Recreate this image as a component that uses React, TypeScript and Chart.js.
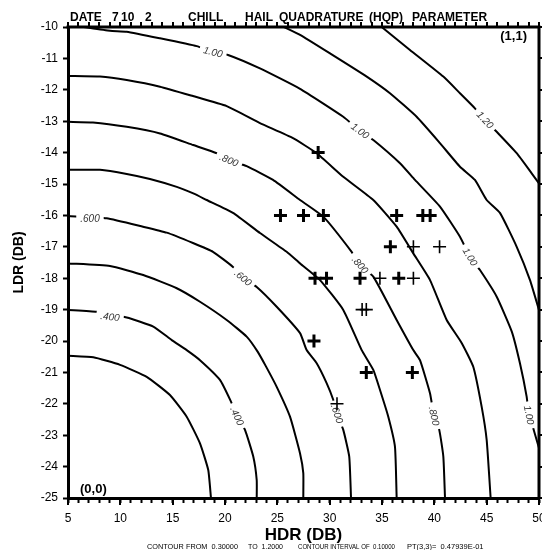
import React, { useEffect, useRef } from 'react';
import { Chart, registerables } from 'chart.js';

Chart.register(...registerables);

// ---------- axes ----------
const xMin = 5;
const xMax = 50;
const yMin = -25;
const yMax = -10;
const xTickValues = [5, 10, 15, 20, 25, 30, 35, 40, 45, 50];
const xTickLabels = ['5', '10', '15', '20', '25', '30', '35', '40', '45', '50'];
const yTickValues = [-10, -11, -12, -13, -14, -15, -16, -17, -18, -19, -20, -21, -22, -23, -24, -25];
const yTickLabels = ['-10', '-11', '-12', '-13', '-14', '-15', '-16', '-17', '-18', '-19', '-20', '-21', '-22', '-23', '-24', '-25'];

// ---------- contour lines (HDR, LDR) ----------
const level030 = [[5, -20.47], [7.42, -20.52], [9.97, -20.76], [12.52, -21.14], [14.74, -21.72], [16.34, -22.41], [17.61, -23.26], [18.4, -24.11], [18.66, -25]];
const level040 = [[5, -19.01], [7.74, -19.07], [10.61, -19.25], [13.15, -19.54], [14.91, -19.97], [16.34, -20.29], [17.61, -20.61], [19.52, -21.24], [20.57, -21.93], [21.15, -22.39], [21.91, -22.83], [22.7, -23.68], [23.03, -24.43], [23.03, -25]];
const level050 = [[5, -17.53], [9.01, -17.61], [12.19, -17.9], [15.39, -18.32], [17.61, -18.75], [20.16, -19.33], [22.07, -19.86], [23.1, -20.33], [23.9, -20.8], [24.94, -21.46], [26.21, -22.41], [27.17, -23.58], [27.48, -24.21], [27.48, -25]];
const level060 = [[5, -16.02], [8.7, -16.09], [12.17, -16.36], [14.43, -16.55], [16.94, -16.88], [18.85, -17.16], [20.76, -17.64], [21.72, -17.99], [23.03, -18.28], [24.94, -18.91], [27.17, -19.75], [27.8, -20.29], [28.76, -20.71], [29.72, -21.35], [30.35, -21.88], [30.7, -22.32], [31.3, -22.83], [31.87, -23.68], [32.04, -25]];
const level070 = [[5, -14.55], [8.06, -14.55], [10.61, -14.68], [12.83, -14.84], [15.39, -15.09], [16.97, -15.3], [18.25, -15.51], [20.76, -15.92], [23.34, -16.56], [25.89, -17.16], [27.17, -17.53], [29.08, -18.06], [31.3, -19.01], [33.06, -20.29], [34.17, -20.92], [34.81, -21.56], [35.6, -22.41], [36.24, -23.37], [36.4, -25]];
const level080 = [[5, -13.02], [7.39, -13.04], [10.61, -13.18], [13.79, -13.39], [16.97, -13.76], [19.21, -14.02], [20.38, -14.24], [22.07, -14.43], [24.59, -14.87], [27.17, -15.51], [29.39, -16.04], [32.1, -17.16], [32.9, -17.58], [34.17, -17.95], [36.4, -19.33], [37.99, -20.29], [38.63, -20.61], [39.59, -21.67], [39.97, -22.39], [40.47, -22.83], [40.86, -23.68], [41.02, -25]];
const level090 = [[5, -11.56], [8.06, -11.58], [10.61, -11.69], [13.79, -11.9], [16.94, -12.2], [20.16, -12.52], [23.34, -13.06], [26.5, -13.54], [28.76, -14.02], [31.3, -14.77], [34.17, -15.51], [36.4, -16.36], [37.99, -17.21], [39.59, -18.06], [41.18, -19.33], [42.61, -20.06], [43.72, -20.82], [44.52, -22.09], [45.0, -23.15], [45.38, -25]];
const level100 = [[6.5, -10], [9.01, -10.12], [10.61, -10.15], [13.79, -10.36], [17.3, -10.61], [18.85, -10.8], [20.29, -10.89], [23.34, -11.32], [27.17, -11.97], [31.3, -12.86], [32.9, -13.31], [34.17, -13.6], [36.72, -14.34], [38.15, -14.87], [40.54, -15.72], [42.45, -16.68], [43.41, -17.32], [44.36, -17.74], [45.96, -18.59], [47.4, -19.7], [48.18, -20.71], [48.82, -21.77], [49.04, -22.36], [49.45, -22.78], [50, -23.41]];
const level110 = [[25.64, -10], [27.17, -10.25], [30.03, -10.84], [33.54, -11.58], [35.76, -12.11], [38.31, -12.86], [40.54, -13.7], [42.45, -14.45], [43.88, -14.87], [45.0, -15.51], [46.27, -15.92], [47.87, -17.0], [49.14, -18.06], [50, -19.01]];
const level120 = [[34.97, -10], [37.67, -10.73], [40.86, -11.58], [42.45, -12.11], [43.88, -12.59], [44.84, -12.96], [46.11, -13.39], [47.87, -14.02], [49.3, -14.66], [50, -14.98]];

const contourLines = [level030, level040, level050, level060, level070, level080, level090, level100, level110, level120];

// ---------- contour labels ----------
const labelTexts = ['1.00', '1.00', '1.00', '1.00', '1.20', '.800', '.800', '.800', '.600', '.600', '.600', '.400', '.400'];
const labelX = [18.85, 32.9, 43.41, 49.04, 44.84, 20.38, 32.9, 39.97, 7.1, 21.72, 30.7, 9.01, 21.15];
const labelY = [-10.8, -13.31, -17.32, -22.36, -12.96, -14.24, -17.58, -22.39, -16.12, -17.99, -22.32, -19.23, -22.39];
const labelAngle = [14, 37, 59, 78, 47, 22, 49, 78, 0, 40, 72, 6, 65];

// ---------- observations (crosses) ----------
const boldX = [28.9, 25.3, 27.5, 29.4, 36.4, 38.9, 39.6, 35.8, 28.6, 29.7, 32.9, 36.6, 28.5, 33.5, 37.9];
const boldY = [-14, -16, -16, -16, -16, -16, -16, -17, -18, -18, -18, -18, -20, -21, -21];
const thinX = [38.0, 40.5, 34.8, 38.0, 30.7, 33.1, 33.5];
const thinY = [-17, -17, -18, -18, -22, -19, -19];

// ---------- texts ----------
const titleWords = ['DATE', '7', '10', '2', 'CHILL', 'HAIL', 'QUADRATURE', '(HQP)', 'PARAMETER'];
const titleOffsets = [2, 44, 53, 77, 120, 177, 211, 301, 344];
const footerParts = ['CONTOUR FROM  0.30000', 'TO  1.2000', 'CONTOUR INTERVAL OF  0.10000', 'PT(3,3)=  0.47939E-01'];
const footerOffsets = [79, 180, 230, 339];
const footerWidths = [91, 35, 97, 99];

const FONT = 'Liberation Sans, Arial, sans-serif';
const CROSS_DATASETS = 2;

const textPlugin = {
  id: 'hqpText',
  afterDatasetDraw(chart: any, args: any) {
    if (args.index !== CROSS_DATASETS) return;
    const ctx = chart.ctx;
    const xs = chart.scales.x;
    const ys = chart.scales.y;
    ctx.save();
    ctx.font = `italic 10px ${FONT}`;
    ctx.textAlign = 'center';
    ctx.textBaseline = 'middle';
    for (let i = 0; i < labelTexts.length; i++) {
      const px = xs.getPixelForValue(labelX[i]);
      const py = ys.getPixelForValue(labelY[i]);
      const w = ctx.measureText(labelTexts[i]).width;
      ctx.save();
      ctx.translate(px, py);
      ctx.rotate((labelAngle[i] * Math.PI) / 180);
      ctx.fillStyle = '#ffffff';
      ctx.fillRect(-w / 2 - 4, -6, w + 8, 12);
      ctx.fillStyle = '#333333';
      ctx.fillText(labelTexts[i], 0, 0.5);
      ctx.restore();
    }
    ctx.restore();
  },
  afterDraw(chart: any) {
    const ctx = chart.ctx;
    const a = chart.chartArea;
    const xs = chart.scales.x;
    const ys = chart.scales.y;
    ctx.save();
    // frame: top and right borders with outward ticks, longer major ticks at bottom
    ctx.strokeStyle = '#000';
    ctx.lineWidth = 3;
    ctx.beginPath();
    ctx.moveTo(a.left - 1.5, a.top);
    ctx.lineTo(a.right, a.top);
    ctx.moveTo(a.right, a.top - 1.5);
    ctx.lineTo(a.right, a.bottom + 1.5);
    ctx.stroke();
    ctx.lineWidth = 2;
    ctx.beginPath();
    for (let v = xMin; v <= xMax; v++) {
      const px = Math.round(xs.getPixelForValue(v));
      ctx.moveTo(px, a.top);
      ctx.lineTo(px, a.top - 5);
      if (xTickValues.indexOf(v) >= 0) {
        ctx.moveTo(px, a.bottom);
        ctx.lineTo(px, a.bottom + 7);
      }
    }
    for (let v = yMin; v <= yMax; v++) {
      const py = Math.round(ys.getPixelForValue(v));
      ctx.moveTo(a.right, py);
      ctx.lineTo(a.right + 6, py);
    }
    ctx.stroke();

    ctx.fillStyle = '#000';
    ctx.textBaseline = 'alphabetic';
    // title
    ctx.font = `bold 12px ${FONT}`;
    ctx.textAlign = 'left';
    for (let i = 0; i < titleWords.length; i++) {
      ctx.fillText(titleWords[i], a.left + titleOffsets[i], a.top - 6);
    }
    // corner marks
    ctx.font = `bold 13px ${FONT}`;
    ctx.textAlign = 'right';
    ctx.fillText('(1,1)', a.right - 12, a.top + 13);
    ctx.textAlign = 'left';
    ctx.fillText('(0,0)', a.left + 12, a.bottom - 5);
    // x title
    ctx.font = `bold 17px ${FONT}`;
    ctx.textAlign = 'center';
    ctx.fillText('HDR (DB)', (a.left + a.right) / 2, a.bottom + 42);
    // y title
    ctx.save();
    ctx.translate(19, (a.top + a.bottom) / 2);
    ctx.rotate(-Math.PI / 2);
    ctx.font = `bold 14px ${FONT}`;
    ctx.textAlign = 'center';
    ctx.textBaseline = 'middle';
    ctx.fillText('LDR (DB)', 0, 0);
    ctx.restore();
    // footer
    ctx.font = `7.5px ${FONT}`;
    ctx.textAlign = 'left';
    for (let i = 0; i < footerParts.length; i++) {
      ctx.fillText(footerParts[i], a.left + footerOffsets[i], a.bottom + 51, footerWidths[i]);
    }
    ctx.restore();
  },
};

export default function App() {
  const ref = useRef<HTMLCanvasElement>(null);

  useEffect(() => {
    const canvas = ref.current;
    if (!canvas) return;

    const crossSets = [
      {
        label: 'obs bold',
        data: boldX.map((x, i) => ({ x, y: boldY[i] })),
        showLine: false,
        pointStyle: 'cross',
        pointRadius: 6.5,
        pointBorderWidth: 3,
        pointBorderColor: '#000',
        pointBackgroundColor: '#000',
      },
      {
        label: 'obs thin',
        data: thinX.map((x, i) => ({ x, y: thinY[i] })),
        showLine: false,
        pointStyle: 'cross',
        pointRadius: 6.5,
        pointBorderWidth: 1.6,
        pointBorderColor: '#000',
        pointBackgroundColor: '#000',
      },
    ];
    const contourSets = contourLines.map((line, i) => ({
      label: `level ${i}`,
      data: line.map(([x, y]) => ({ x, y })),
      showLine: true,
      borderColor: '#000',
      borderWidth: 2,
      pointRadius: 0,
      tension: 0.15,
      fill: false,
    }));

    const tickFont = { family: FONT, size: 12 };
    const chart = new Chart(canvas, {
      type: 'scatter',
      data: { datasets: [...crossSets, ...contourSets] as any },
      options: {
        animation: false,
        responsive: false,
        devicePixelRatio: 1,
        events: [],
        layout: { autoPadding: false, padding: { left: 0, top: 27, right: 3, bottom: 0 } },
        plugins: { legend: { display: false }, tooltip: { enabled: false }, title: { display: false } },
        scales: {
          x: {
            type: 'linear',
            position: 'bottom',
            min: xMin,
            max: xMax,
            ticks: {
              stepSize: 1,
              autoSkip: false,
              maxRotation: 0,
              minRotation: 0,
              padding: 8,
              color: '#000',
              font: tickFont,
              callback: (v: any) => {
                const k = xTickValues.indexOf(Number(v));
                return k >= 0 ? xTickLabels[k] : '';
              },
            },
            grid: { display: true, drawOnChartArea: false, drawTicks: true, tickLength: 5, tickWidth: 2, tickColor: '#000' },
            border: { display: true, color: '#000', width: 3 },
            afterFit: (s: any) => {
              s.height = 52;
              s.paddingLeft = 0;
              s.paddingRight = 0;
            },
          },
          y: {
            type: 'linear',
            position: 'left',
            min: yMin,
            max: yMax,
            ticks: {
              stepSize: 1,
              autoSkip: false,
              padding: 5,
              color: '#000',
              font: tickFont,
              callback: (v: any) => {
                const k = yTickValues.indexOf(Number(v));
                return k >= 0 ? yTickLabels[k] : '';
              },
            },
            grid: { display: true, drawOnChartArea: false, drawTicks: true, tickLength: 5, tickWidth: 2, tickColor: '#000' },
            border: { display: true, color: '#000', width: 3 },
            afterFit: (s: any) => {
              s.width = 68;
              s.paddingTop = 0;
              s.paddingBottom = 0;
            },
          },
        },
      } as any,
      plugins: [textPlugin as any],
    });

    return () => chart.destroy();
  }, []);

  return (
    <div style={{ position: 'fixed', left: 0, top: 0, width: 542, height: 550, background: '#fff' }}>
      <canvas ref={ref} width={542} height={550} style={{ display: 'block', width: 542, height: 550 }} />
    </div>
  );
}
